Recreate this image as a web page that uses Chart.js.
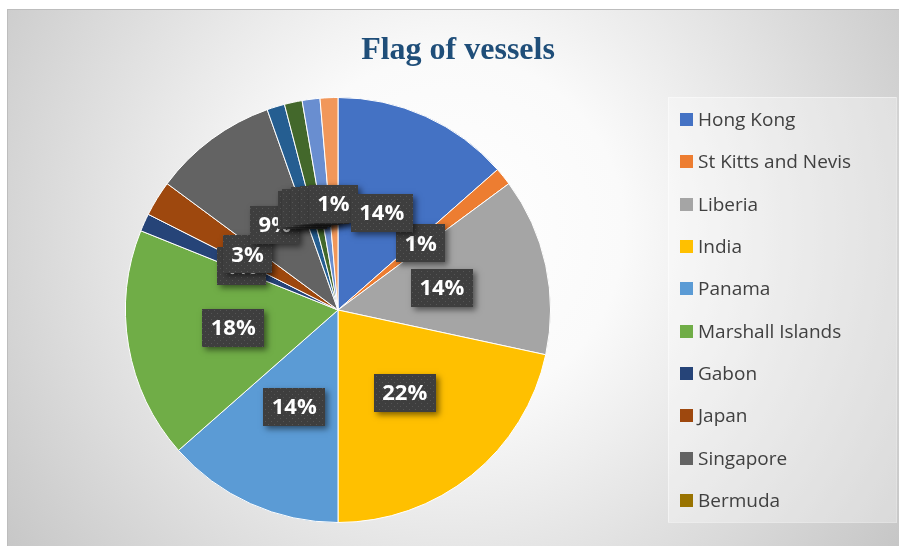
<!DOCTYPE html>
<html>
<head>
<meta charset="utf-8">
<script src="https://cdn.jsdelivr.net/npm/chart.js@4.4.1/dist/chart.umd.min.js"></script>
<style>
  html, body { margin: 0; padding: 0; background: #ffffff; }
  #wrap { width: 899px; height: 546px; position: relative; }
  canvas { display: block; }
</style>
</head>
<body>
<div id="wrap"><canvas id="c" width="899" height="546"></canvas></div>
<script>
// ---- Data ----
const chartTitle = 'Flag of vessels';
const categories = ['Hong Kong', 'St Kitts and Nevis', 'Liberia', 'India', 'Panama',
  'Marshall Islands', 'Gabon', 'Japan', 'Singapore', 'Bermuda',
  'Other 1', 'Other 2', 'Other 3', 'Other 4'];
const vesselCounts = [10, 1, 10, 16, 10, 13, 1, 2, 7, 0, 1, 1, 1, 1];
const sliceColors = ['#4472C4', '#ED7D31', '#A5A5A5', '#FFC000', '#5B9BD5', '#70AD47',
  '#264478', '#9E480E', '#636363', '#997300', '#255E91', '#43682B', '#698ED0', '#F1975A'];
const legendCount = 10; // the reference legend lists only the first ten flags

// ---- Background, frame, title, legend ----
const frameBg = {
  id: 'frameBg',
  beforeDraw(chart) {
    const ctx = chart.ctx;
    ctx.save();
    ctx.fillStyle = '#ffffff';
    ctx.fillRect(0, 0, chart.width, chart.height);
    const g = ctx.createRadialGradient(450, 230, 0, 450, 230, 580);
    g.addColorStop(0, '#ffffff');
    g.addColorStop(0.3, '#fafafa');
    g.addColorStop(1, '#c2c2c2');
    ctx.fillStyle = g;
    ctx.fillRect(7, 9, chart.width - 7, chart.height - 9);
    ctx.strokeStyle = '#bdbdbd';
    ctx.lineWidth = 1;
    ctx.strokeRect(7.5, 9.5, chart.width - 7, chart.height - 9);
    // title
    ctx.fillStyle = '#1F4E79';
    ctx.font = 'bold 32px "Liberation Serif", "Times New Roman", serif';
    ctx.textAlign = 'center';
    ctx.textBaseline = 'alphabetic';
    ctx.fillText(chartTitle, 458, 59);
    // legend box
    ctx.fillStyle = 'rgba(255,255,255,0.32)';
    ctx.fillRect(668, 97, 228, 425);
    ctx.strokeStyle = 'rgba(255,255,255,0.45)';
    ctx.strokeRect(668.5, 97.5, 228, 425);
    // legend entries (from chart data)
    const labels = chart.data.labels.slice(0, legendCount);
    const colors = chart.data.datasets[0].backgroundColor;
    ctx.font = '19px "Open Sans", sans-serif';
    ctx.textAlign = 'left';
    ctx.textBaseline = 'middle';
    labels.forEach((lab, i) => {
      const y = 119.5 + i * 42.35;
      ctx.fillStyle = colors[i];
      ctx.fillRect(680, Math.round(y - 6.5), 13, 13);
      ctx.fillStyle = '#404040';
      ctx.fillText(lab, 698, y + 1);
    });
    ctx.restore();
  }
};

// ---- Data labels (percentages) ----
function makeDotPattern(ctx) {
  const p = document.createElement('canvas');
  p.width = 6; p.height = 6;
  const pc = p.getContext('2d');
  pc.fillStyle = '#3e3e3e';
  pc.fillRect(0, 0, 6, 6);
  pc.fillStyle = '#555555';
  pc.fillRect(1, 1, 1, 1);
  pc.fillRect(4, 4, 1, 1);
  return ctx.createPattern(p, 'repeat');
}

const pctLabels = {
  id: 'pctLabels',
  afterDatasetsDraw(chart) {
    const ctx = chart.ctx;
    const meta = chart.getDatasetMeta(0);
    const data = chart.data.datasets[0].data;
    const total = data.reduce((a, b) => a + b, 0);
    const pattern = makeDotPattern(ctx);
    const order = [];
    for (let i = 1; i < data.length; i++) order.push(i);
    order.push(0);
    ctx.save();
    ctx.font = 'bold 22px "Open Sans", sans-serif';
    ctx.textAlign = 'center';
    ctx.textBaseline = 'middle';
    order.forEach(i => {
      const arc = meta.data[i];
      const pos = arc.tooltipPosition();
      const txt = Math.round(data[i] / total * 100) + '%';
      const w = Math.round(ctx.measureText(txt).width + 17);
      const h = 38;
      const x = Math.round(pos.x - w / 2), y = Math.round(pos.y - h / 2);
      ctx.save();
      ctx.shadowColor = 'rgba(0,0,0,0.5)';
      ctx.shadowBlur = 6;
      ctx.shadowOffsetX = 3;
      ctx.shadowOffsetY = 3;
      ctx.fillStyle = '#3e3e3e';
      ctx.fillRect(x, y, w, h);
      ctx.restore();
      ctx.fillStyle = pattern;
      ctx.fillRect(x, y, w, h);
      ctx.fillStyle = '#ffffff';
      ctx.fillText(txt, pos.x, pos.y + 1);
    });
    ctx.restore();
  }
};

new Chart(document.getElementById('c'), {
  type: 'pie',
  data: {
    labels: categories,
    datasets: [{
      data: vesselCounts,
      backgroundColor: sliceColors,
      borderColor: '#ffffff',
      borderWidth: 1
    }]
  },
  options: {
    responsive: false,
    devicePixelRatio: 1,
    animation: false,
    layout: { padding: { top: 97, bottom: 23, left: 88, right: 311 } },
    plugins: {
      legend: { display: false },
      title: { display: false },
      tooltip: { enabled: false }
    }
  },
  plugins: [frameBg, pctLabels]
});
</script>
</body>
</html>
